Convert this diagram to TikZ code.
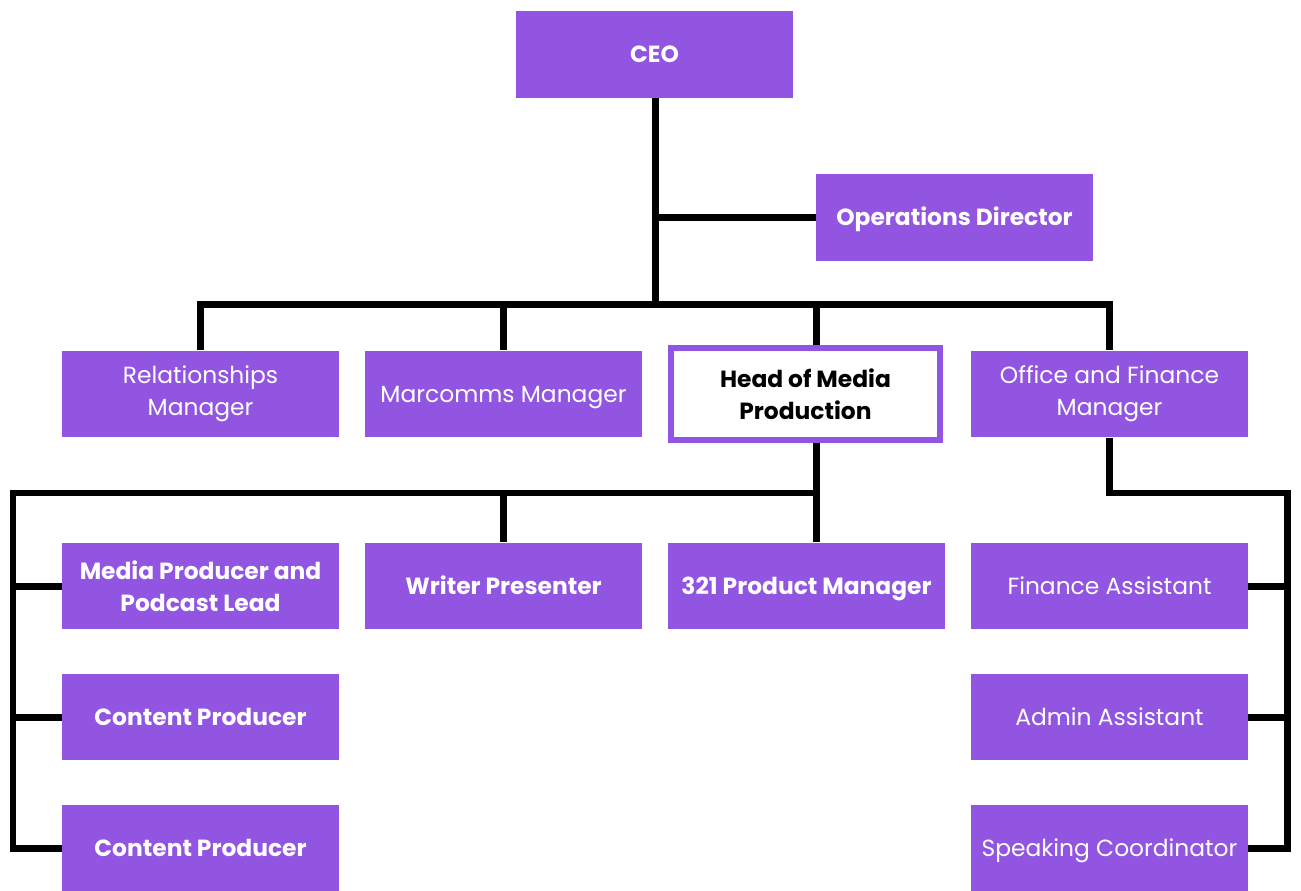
\documentclass[tikz,border=0pt]{standalone}
\usepackage{fontspec}
\setmainfont{Poppins}
\usepackage{xcolor}
\usepackage{tikz}
\usetikzlibrary{positioning}

\definecolor{orgpurple}{HTML}{9155E2}

\begin{document}
\begin{tikzpicture}[
        x=0.02cm, y=-0.02cm,
        role/.style={rectangle, fill=orgpurple, text=white, minimum width=5.54cm, minimum height=1.74cm, align=center, inner sep=0pt, font=\fontsize{13.3}{18}\selectfont},
        lead/.style={role, font=\fontsize{13.3}{18}\selectfont\bfseries},
        focus/.style={rectangle, draw=orgpurple, line width=0.12cm, fill=white, text=black, minimum width=5.38cm, minimum height=1.84cm, align=center, inner sep=0pt, font=\fontsize{13.3}{18}\selectfont\bfseries},
        oneline/.style={text height=9.6pt, text depth=0pt},
        link/.style={draw=black, line width=0.14cm},
    ]
        \useasboundingbox (0,0) rectangle (1301,891);

        % Top
        \node[lead, oneline] (ceo) at (654.5, 54.5) {CEO};
        \node[lead, oneline] (ops) at (954.5, 217.5) {Operations Director};

        % Managers
        \node[role] (rel) at (200.5, 394) {Relationships\\Manager};
        \node[role, oneline] (mar) at (503.5, 394) {Marcomms Manager};
        \node[focus] (head) at (805.5, 394) {Head of Media\\Production};
        \node[role] (off) at (1109.5, 394) {Office and Finance\\Manager};

        % Media team
        \node[lead] (mpl) at (200.5, 586) {Media Producer and\\Podcast Lead};
        \node[lead, oneline] (cp1) at (200.5, 717) {Content Producer};
        \node[lead, oneline] (cp2) at (200.5, 848.5) {Content Producer};
        \node[lead, oneline] (wri) at (503.5, 586) {Writer Presenter};
        \node[lead, oneline] (pm) at (806.5, 586) {321 Product Manager};

        % Office team
        \node[role, oneline] (fin) at (1109.5, 586) {Finance Assistant};
        \node[role, oneline] (adm) at (1109.5, 717) {Admin Assistant};
        \node[role, oneline] (spk) at (1109.5, 848.5) {Speaking Coordinator};

        % Bus points
        \coordinate (busA) at (655, 305);
        \coordinate (busB) at (816, 493);
        \coordinate (leftrail) at (13, 493);
        \coordinate (rightrail) at (1287, 493);

        % Lines
        \draw[link] (ceo.south -| busA) -- (busA);
        \draw[link] (ops.west -| busA) -- (ops.west);
        \draw[link] (rel.north) -- (rel.north |- busA) -- (off.north |- busA) -- (off.north);
        \draw[link] (mar.north |- busA) -- (mar.north);
        \draw[link] (busA -| busB) -- (head.north -| busB);
        \draw[link] (head.south -| busB) -- (busB) -- (leftrail) -- (cp2.west -| leftrail) -- (cp2.west);
        \draw[link] (mpl.west -| leftrail) -- (mpl.west);
        \draw[link] (cp1.west -| leftrail) -- (cp1.west);
        \draw[link] (wri.north |- busB) -- (wri.north);
        \draw[link] (busB) -- (pm.north -| busB);
        \draw[link] (off.south) -- (off.south |- rightrail) -- (rightrail) -- (spk.east -| rightrail) -- (spk.east);
        \draw[link] (fin.east -| rightrail) -- (fin.east);
        \draw[link] (adm.east -| rightrail) -- (adm.east);
    \end{tikzpicture}
\end{document}
